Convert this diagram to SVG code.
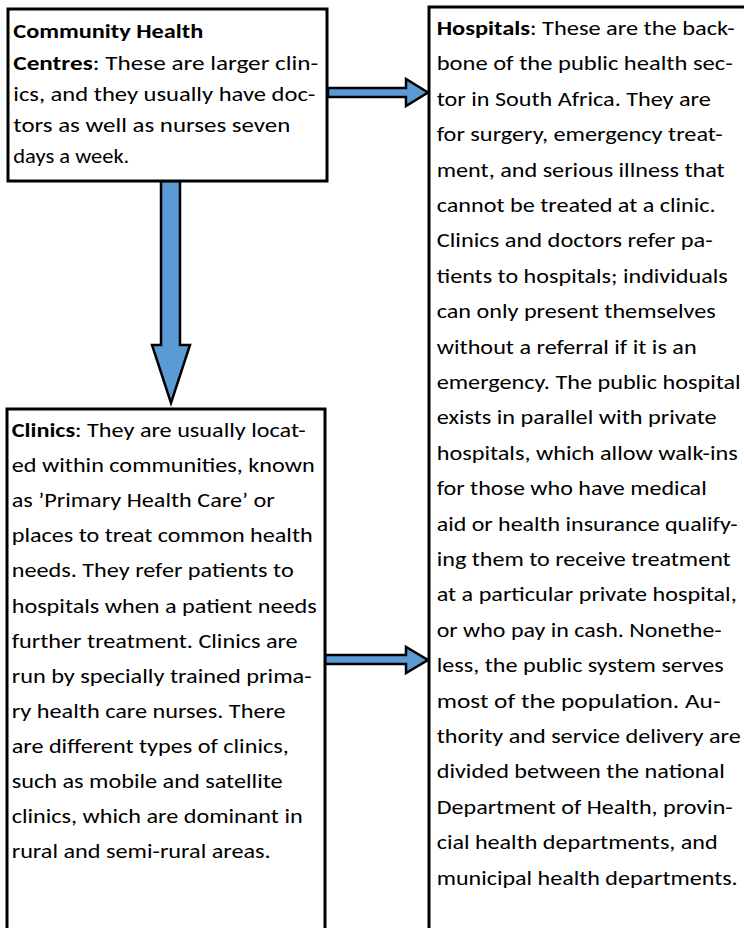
<svg xmlns="http://www.w3.org/2000/svg" width="744" height="928" viewBox="0 0 744 928">
<style>
.box{fill:#fff;stroke:#000;stroke-width:3}
.arrow{fill:#5B9BD5;stroke:#000;stroke-width:2.5;stroke-linejoin:miter}
text{font-family:Carlito,Lato,"Open Sans",sans-serif;font-size:20px;fill:#000}
.b{font-weight:bold}
</style>
<rect width="744" height="928" fill="#fff"/>
<g id="connectors">
<path class="arrow" d="M328,88 H406 V79 L428,92.5 L406,106 V97 H328 Z"/>
<path class="arrow" d="M161,181 V345 H152 L171,403 L190,345 H180 V181 Z"/>
<path class="arrow" d="M325,655 H406 V647 L428,660 L406,673 V664 H325 Z"/>
</g>
<g id="community-health-centres">
<rect class="box" x="8" y="9" width="319" height="172"/>
<text x="13.3" y="38" class="b" textLength="190" lengthAdjust="spacingAndGlyphs">Community Health</text>
<text x="13.3" y="70" textLength="305" lengthAdjust="spacingAndGlyphs"><tspan class="b">Centres</tspan>: These are larger clin-</text>
<text x="13.3" y="101" textLength="302" lengthAdjust="spacingAndGlyphs">ics, and they usually have doc-</text>
<text x="13.3" y="132" textLength="277" lengthAdjust="spacingAndGlyphs">tors as well as nurses seven</text>
<text x="13.3" y="163" textLength="116" lengthAdjust="spacingAndGlyphs">days a week.</text>
</g>
<g id="hospitals">
<rect class="box" x="429" y="7" width="400" height="1000"/>
<text x="436.7" y="35" textLength="298" lengthAdjust="spacingAndGlyphs"><tspan class="b">Hospitals</tspan>: These are the back-</text>
<text x="436.7" y="70.4" textLength="296" lengthAdjust="spacingAndGlyphs">bone of the public health sec-</text>
<text x="436.7" y="105.8" textLength="274" lengthAdjust="spacingAndGlyphs">tor in South Africa. They are</text>
<text x="436.7" y="141.2" textLength="286" lengthAdjust="spacingAndGlyphs">for surgery, emergency treat-</text>
<text x="436.7" y="176.6" textLength="288" lengthAdjust="spacingAndGlyphs">ment, and serious illness that</text>
<text x="436.7" y="212" textLength="279" lengthAdjust="spacingAndGlyphs">cannot be treated at a clinic.</text>
<text x="436.7" y="247.4" textLength="276" lengthAdjust="spacingAndGlyphs">Clinics and doctors refer pa-</text>
<text x="436.7" y="282.8" textLength="291" lengthAdjust="spacingAndGlyphs">tients to hospitals; individuals</text>
<text x="436.7" y="318.2" textLength="279" lengthAdjust="spacingAndGlyphs">can only present themselves</text>
<text x="436.7" y="353.6" textLength="260" lengthAdjust="spacingAndGlyphs">without a referral if it is an</text>
<text x="436.7" y="389" textLength="304" lengthAdjust="spacingAndGlyphs">emergency. The public hospital</text>
<text x="436.7" y="424.4" textLength="280" lengthAdjust="spacingAndGlyphs">exists in parallel with private</text>
<text x="436.7" y="459.8" textLength="301" lengthAdjust="spacingAndGlyphs">hospitals, which allow walk-ins</text>
<text x="436.7" y="495.2" textLength="270" lengthAdjust="spacingAndGlyphs">for those who have medical</text>
<text x="436.7" y="530.6" textLength="301" lengthAdjust="spacingAndGlyphs">aid or health insurance qualify-</text>
<text x="436.7" y="566" textLength="294" lengthAdjust="spacingAndGlyphs">ing them to receive treatment</text>
<text x="436.7" y="601.4" textLength="300" lengthAdjust="spacingAndGlyphs">at a particular private hospital,</text>
<text x="436.7" y="636.8" textLength="285" lengthAdjust="spacingAndGlyphs">or who pay in cash. Nonethe-</text>
<text x="436.7" y="672.2" textLength="287" lengthAdjust="spacingAndGlyphs">less, the public system serves</text>
<text x="436.7" y="707.6" textLength="284" lengthAdjust="spacingAndGlyphs">most of the population. Au-</text>
<text x="436.7" y="743" textLength="304" lengthAdjust="spacingAndGlyphs">thority and service delivery are</text>
<text x="436.7" y="778.4" textLength="288" lengthAdjust="spacingAndGlyphs">divided between the national</text>
<text x="436.7" y="813.8" textLength="296" lengthAdjust="spacingAndGlyphs">Department of Health, provin-</text>
<text x="436.7" y="849.2" textLength="281" lengthAdjust="spacingAndGlyphs">cial health departments, and</text>
<text x="436.7" y="884.6" textLength="301" lengthAdjust="spacingAndGlyphs">municipal health departments.</text>
</g>
<g id="clinics">
<rect class="box" x="7" y="409" width="318" height="600"/>
<text x="11.7" y="437" textLength="294" lengthAdjust="spacingAndGlyphs"><tspan class="b">Clinics</tspan>: They are usually locat-</text>
<text x="11.7" y="472.1" textLength="303" lengthAdjust="spacingAndGlyphs">ed within communities, known</text>
<text x="11.7" y="507.2" textLength="263" lengthAdjust="spacingAndGlyphs">as ’Primary Health Care’ or</text>
<text x="11.7" y="542.3" textLength="301" lengthAdjust="spacingAndGlyphs">places to treat common health</text>
<text x="11.7" y="577.4" textLength="282" lengthAdjust="spacingAndGlyphs">needs. They refer patients to</text>
<text x="11.7" y="612.5" textLength="305" lengthAdjust="spacingAndGlyphs">hospitals when a patient needs</text>
<text x="11.7" y="647.6" textLength="286" lengthAdjust="spacingAndGlyphs">further treatment. Clinics are</text>
<text x="11.7" y="682.7" textLength="300" lengthAdjust="spacingAndGlyphs">run by specially trained prima-</text>
<text x="11.7" y="717.8" textLength="274" lengthAdjust="spacingAndGlyphs">ry health care nurses. There</text>
<text x="11.7" y="752.9" textLength="277" lengthAdjust="spacingAndGlyphs">are different types of clinics,</text>
<text x="11.7" y="788" textLength="271" lengthAdjust="spacingAndGlyphs">such as mobile and satellite</text>
<text x="11.7" y="823.1" textLength="291" lengthAdjust="spacingAndGlyphs">clinics, which are dominant in</text>
<text x="11.7" y="858.2" textLength="259" lengthAdjust="spacingAndGlyphs">rural and semi-rural areas.</text>
</g>
</svg>
